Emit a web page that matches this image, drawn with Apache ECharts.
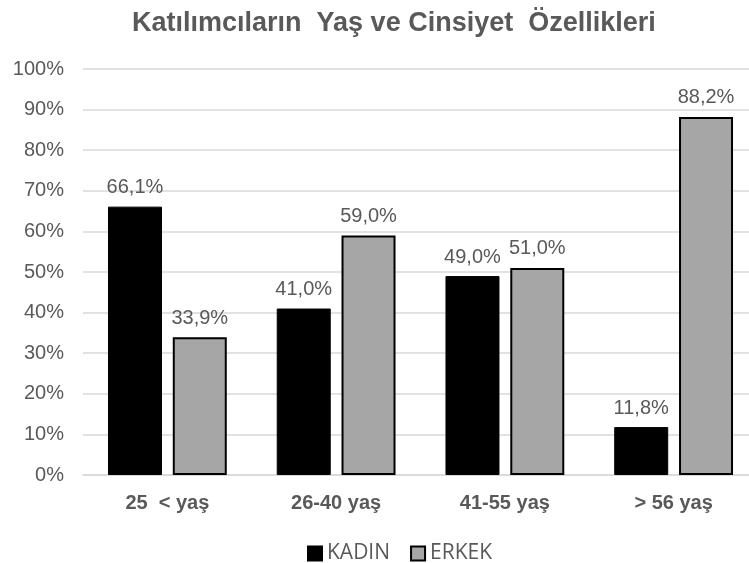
<!DOCTYPE html>
<html><head><meta charset="utf-8">
<script src="https://cdn.jsdelivr.net/npm/echarts@6/dist/echarts.min.js"></script>
<style>html,body{margin:0;padding:0;background:#fff;overflow:hidden}#c{width:760px;height:563px}</style>
</head><body><div id="c"></div>
<script>
const titleText = "Katılımcıların  Yaş ve Cinsiyet  Özellikleri";
const categories = ["25  < yaş", "26-40 yaş", "41-55 yaş", "> 56 yaş"];
const seriesNames = ["KADIN", "ERKEK"];
const kadin = [66.1, 41.0, 49.0, 11.8];
const erkek = [33.9, 59.0, 51.0, 88.2];

const chart = echarts.init(document.getElementById('c'));
const fmt = p => p.value.toFixed(1).replace('.', ',') + '%';
const lbl = {show:true, position:'top', distance:9, color:'#595959', fontSize:20, fontFamily:'Liberation Sans, Arial', formatter:fmt};
chart.setOption({
  animation:false,
  title:{text:titleText, left:127, top:5, textStyle:{color:'#595959', fontSize:27, fontWeight:'bold', fontFamily:'Liberation Sans, Arial'}},
  grid:{left:83, top:69, right:2, height:406, containLabel:false},
  legend:{top:538, left:302, itemWidth:14, itemHeight:14, itemGap:20, icon:'rect',
    textStyle:{color:'#595959', fontSize:21, fontFamily:'Open Sans, Liberation Sans'}, data:seriesNames},
  xAxis:{type:'category', data:categories, axisLine:{show:true, lineStyle:{color:'#d9d9d9', width:1.5}}, axisTick:{show:false},
    axisLabel:{color:'#595959', fontSize:20, fontWeight:'bold', margin:18, fontFamily:'Liberation Sans, Arial'}},
  yAxis:{type:'value', min:0, max:100, interval:10, axisLine:{show:false}, axisTick:{show:false},
    splitLine:{lineStyle:{color:'#d9d9d9', width:1.5}},
    axisLabel:{color:'#595959', fontSize:20, margin:19, fontFamily:'Liberation Sans, Arial', formatter:v=>v+'%'}},
  series:[
    {name:seriesNames[0], type:'bar', data:kadin, barWidth:54, barGap:'20%', itemStyle:{color:'#000000', borderColor:'#000', borderWidth:1}, label:lbl},
    {name:seriesNames[1], type:'bar', data:erkek, barWidth:54, itemStyle:{color:'#a6a6a6', borderColor:'#000', borderWidth:2}, label:lbl}
  ]
});
</script></body></html>
